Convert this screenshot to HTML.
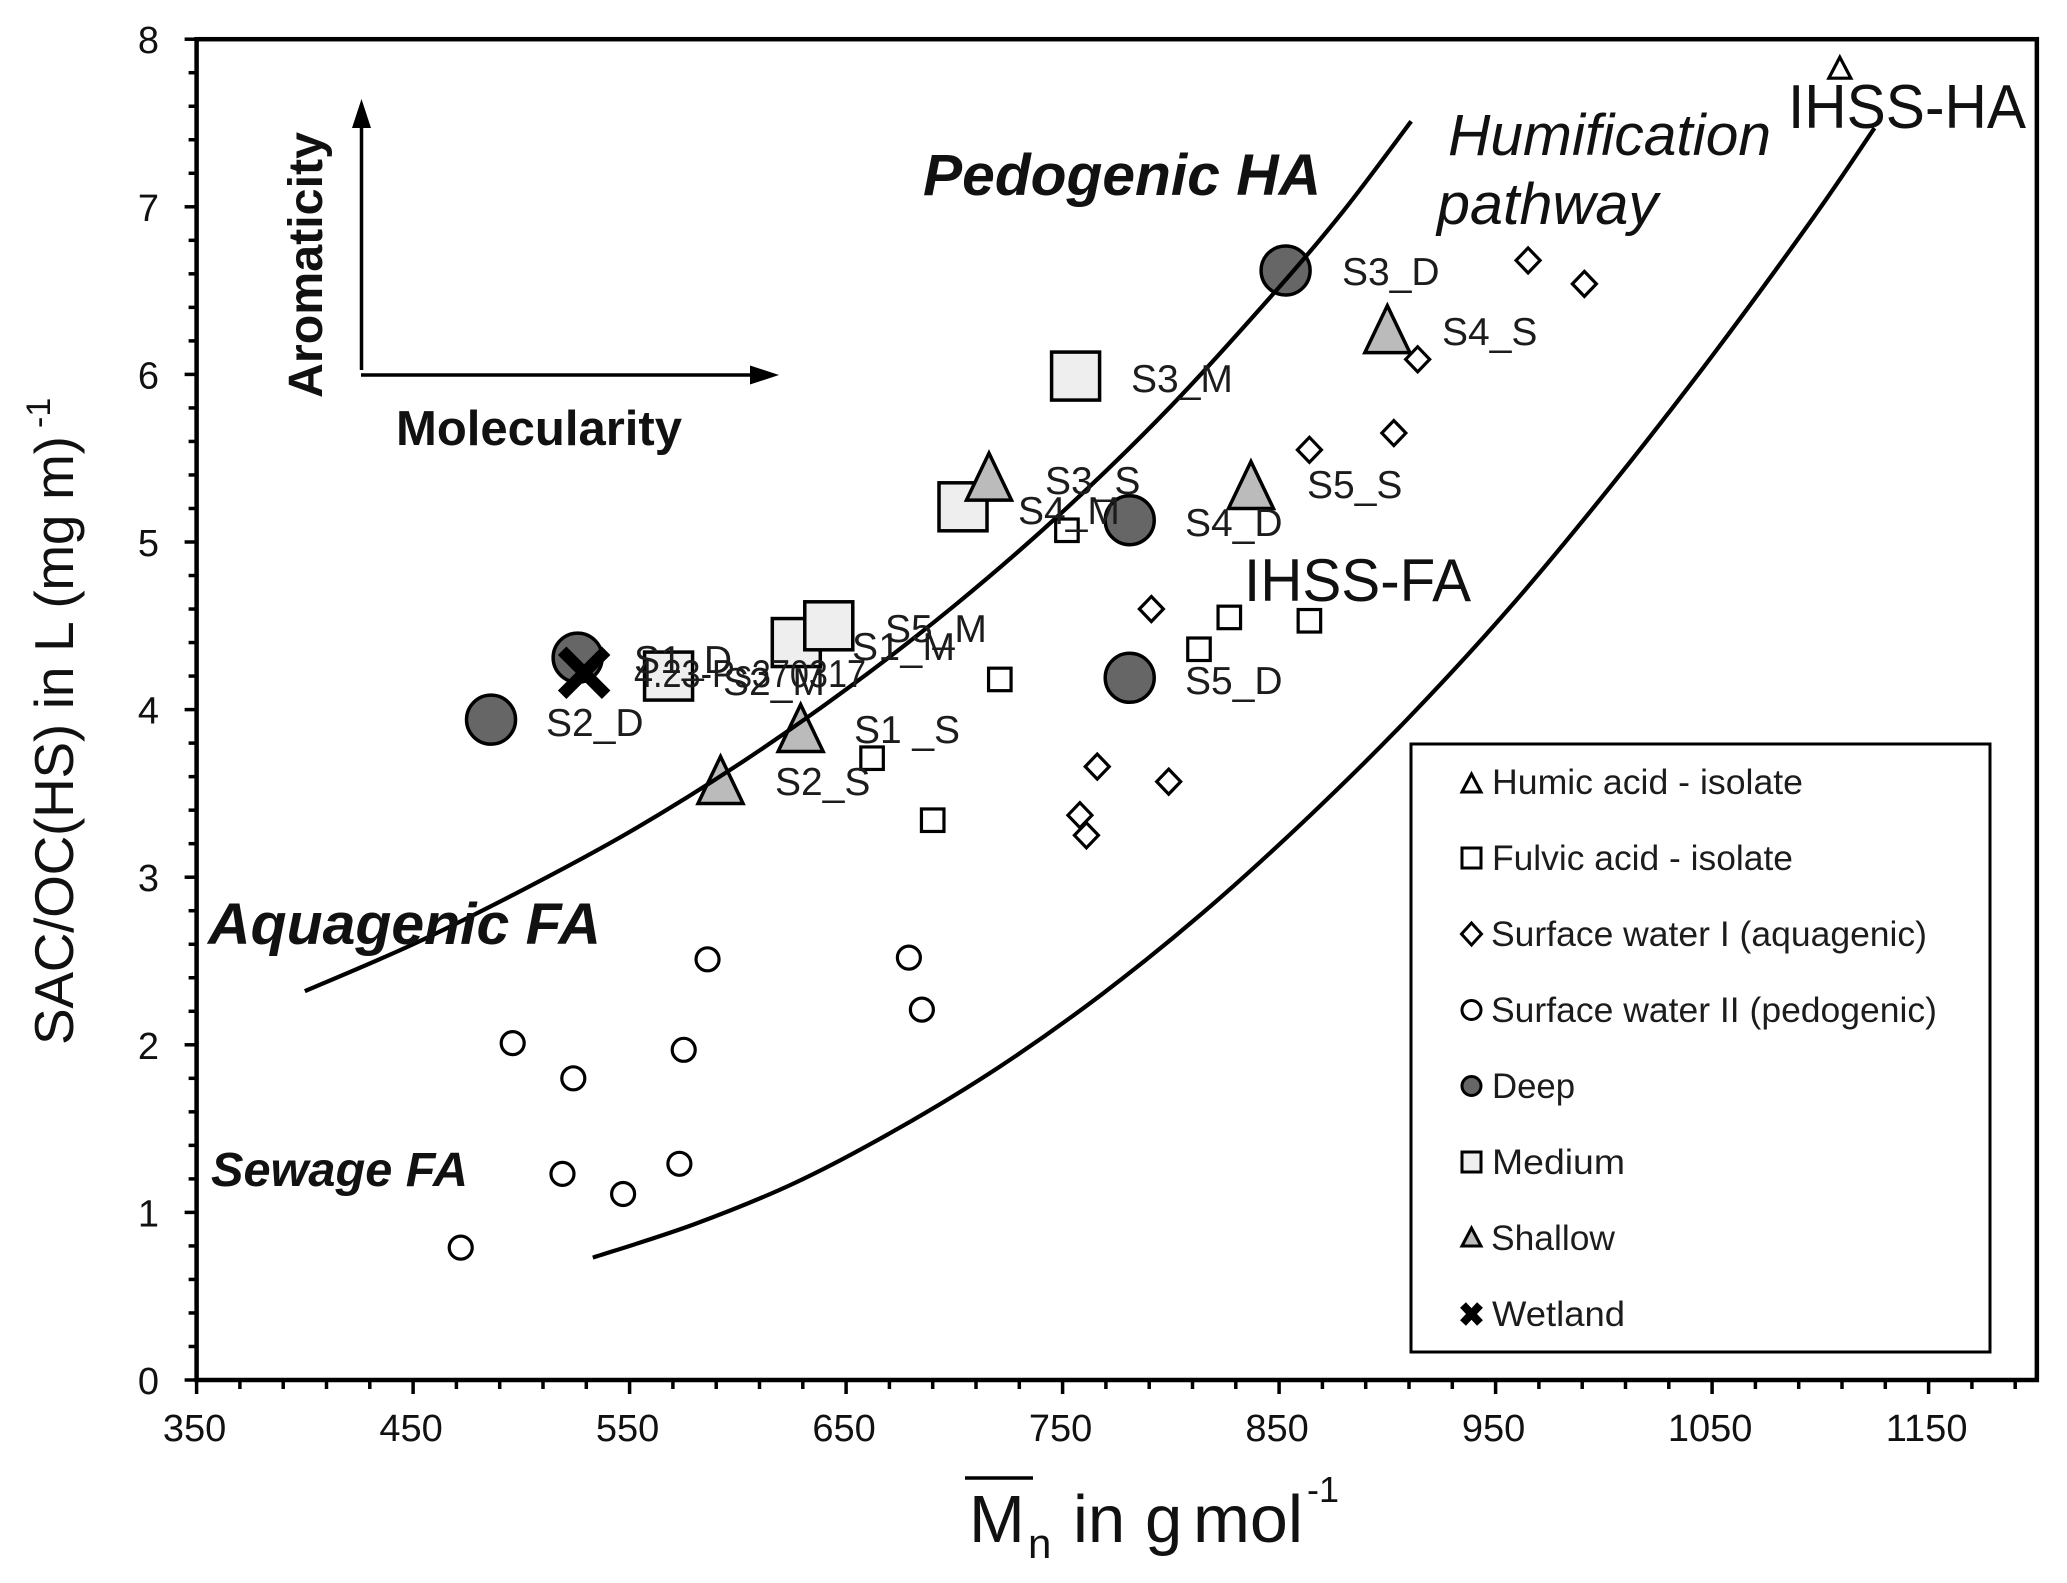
<!DOCTYPE html>
<html lang="en">
<head>
<meta charset="utf-8">
<title>SAC/OC versus molecular weight</title>
<style>
html,body{margin:0;padding:0;background:#fff}
svg{display:block}
text{font-family:"Liberation Sans",Arial,sans-serif;fill:#111}
.sample{font-size:39px;fill:#1c1c1c}
.legend-text{font-size:35px;fill:#1c1c1c}
.tick{font-size:38px;fill:#111}
</style>
</head>
<body>
<svg id="chart" width="2067" height="1583" viewBox="0 0 2067 1583" xmlns="http://www.w3.org/2000/svg">
  <rect x="0" y="0" width="2067" height="1583" fill="#fff"/>
  <g id="axes"></g>
  <g id="marks"></g>
  <g id="curves"></g>

  <g>
    <line x1="361.5" y1="370" x2="361.5" y2="125" stroke="#000" stroke-width="3.5"/>
    <polygon points="361.5,99 352,128 371,128" fill="#000"/>
    <line x1="361" y1="375" x2="752" y2="375" stroke="#000" stroke-width="3.5"/>
    <polygon points="779,375 750,365.5 750,384.5" fill="#000"/>
    <text transform="translate(322,398) rotate(-90)" font-size="48" font-weight="700" textLength="266" lengthAdjust="spacingAndGlyphs">Aromaticity</text>
    <text x="396" y="445" font-size="49" font-weight="700" textLength="286" lengthAdjust="spacingAndGlyphs">Molecularity</text>
  </g>

  <g>
    <text x="923" y="195" font-size="58" font-weight="700" font-style="italic" textLength="398" lengthAdjust="spacingAndGlyphs">Pedogenic HA</text>
    <text x="208" y="944" font-size="58" font-weight="700" font-style="italic" textLength="393" lengthAdjust="spacingAndGlyphs">Aquagenic FA</text>
    <text x="211" y="1186" font-size="48" font-weight="700" font-style="italic" textLength="257" lengthAdjust="spacingAndGlyphs">Sewage FA</text>
    <text x="1448" y="155" font-size="58" font-style="italic" textLength="323" lengthAdjust="spacingAndGlyphs">Humification</text>
    <text x="1437" y="224" font-size="58" font-style="italic" textLength="221" lengthAdjust="spacingAndGlyphs">pathway</text>
    <text x="1788" y="128" font-size="62" textLength="238" lengthAdjust="spacingAndGlyphs">IHSS-HA</text>
    <text x="1244" y="601" font-size="60" textLength="227" lengthAdjust="spacingAndGlyphs">IHSS-FA</text>
  </g>

  <g>
    <text class="sample" x="1342" y="285">S3_D</text>
    <text class="sample" x="1442" y="345">S4_S</text>
    <text class="sample" x="1131" y="392">S3_M</text>
    <text class="sample" x="1045" y="494">S3_S</text>
    <text class="sample" x="1018" y="524">S4_M</text>
    <text class="sample" x="1307" y="498">S5_S</text>
    <text class="sample" x="1185" y="536">S4_D</text>
    <text class="sample" x="1185" y="694">S5_D</text>
    <text class="sample" x="885" y="642">S5_M</text>
    <text class="sample" x="852" y="660" textLength="103" lengthAdjust="spacing">S1_M</text>
    <text class="sample" x="634" y="673" textLength="98" lengthAdjust="spacing">S1_D</text>
    <text class="sample" x="634" y="687" textLength="232" lengthAdjust="spacingAndGlyphs">4.23-Ps370317</text>
    <text class="sample" x="723" y="695">S2_M</text>
    <text class="sample" x="546" y="736">S2_D</text>
    <text class="sample" x="854" y="743" textLength="106" lengthAdjust="spacing">S1 _S</text>
    <text class="sample" x="775" y="795">S2_S</text>
  </g>

  <g>
    <rect x="1411" y="744" width="579" height="608" fill="#fff" stroke="#000" stroke-width="3"/>
    <polygon points="1471.5,774 1462,792 1481,792" fill="#fff" stroke="#000" stroke-width="3"/>
    <rect x="1462" y="848" width="19" height="20" fill="#fff" stroke="#000" stroke-width="3"/>
    <polygon points="1471.5,923 1481.5,934 1471.5,945 1461.5,934" fill="#fff" stroke="#000" stroke-width="3"/>
    <circle cx="1471.5" cy="1010" r="9.5" fill="#fff" stroke="#000" stroke-width="3"/>
    <circle cx="1471.5" cy="1086" r="9.5" fill="#666" stroke="#000" stroke-width="3"/>
    <rect x="1462" y="1152" width="19" height="20" fill="#eee" stroke="#000" stroke-width="3"/>
    <polygon points="1471.5,1228 1462,1246 1481,1246" fill="#bbb" stroke="#000" stroke-width="3"/>
    <g stroke="#000" stroke-width="8">
      <line x1="1463" y1="1305" x2="1480" y2="1323"/>
      <line x1="1480" y1="1305" x2="1463" y2="1323"/>
    </g>
    <text class="legend-text" x="1492" y="794" textLength="311" lengthAdjust="spacingAndGlyphs">Humic acid - isolate</text>
    <text class="legend-text" x="1492" y="870" textLength="301" lengthAdjust="spacingAndGlyphs">Fulvic acid - isolate</text>
    <text class="legend-text" x="1491" y="946" textLength="436" lengthAdjust="spacingAndGlyphs">Surface water I (aquagenic)</text>
    <text class="legend-text" x="1491" y="1022" textLength="446" lengthAdjust="spacingAndGlyphs">Surface water II (pedogenic)</text>
    <text class="legend-text" x="1492" y="1098" textLength="83" lengthAdjust="spacingAndGlyphs">Deep</text>
    <text class="legend-text" x="1492" y="1174" textLength="133" lengthAdjust="spacingAndGlyphs">Medium</text>
    <text class="legend-text" x="1491" y="1250" textLength="124" lengthAdjust="spacingAndGlyphs">Shallow</text>
    <text class="legend-text" x="1492" y="1326" textLength="133" lengthAdjust="spacingAndGlyphs">Wetland</text>
  </g>

  <g>
    <text transform="translate(73,1045) rotate(-90)" font-size="55" textLength="609" lengthAdjust="spacing">SAC/OC(HS) in L (mg m)</text>
    <text transform="translate(50,428) rotate(-90)" font-size="34">-1</text>
  </g>
  <g>
    <line x1="965" y1="1478" x2="1033" y2="1478" stroke="#000" stroke-width="3.5"/>
    <text x="969" y="1542" font-size="67">M</text>
    <text x="1028" y="1558" font-size="42">n</text>
    <text x="1073" y="1542" font-size="67">in</text>
    <text x="1145" y="1542" font-size="67">g</text>
    <text x="1193" y="1542" font-size="67" textLength="110" lengthAdjust="spacingAndGlyphs">mol</text>
    <text x="1307" y="1502" font-size="36">-1</text>
  </g>
</svg>

<script>
// ---- chart data ----
const xTickLabels = ['350','450','550','650','750','850','950','1050','1150'];
const yTickLabels = ['0','1','2','3','4','5','6','7','8'];

const humicX = [1109];
const humicY = [7.83];

const fulvicX = [752, 721, 662, 690, 827, 813, 864];
const fulvicY = [5.07, 4.18, 3.71, 3.34, 4.55, 4.36, 4.53];

const surfaceOneX = [965, 991, 914, 903, 864, 791, 766, 799, 758, 761];
const surfaceOneY = [6.68, 6.54, 6.09, 5.65, 5.55, 4.60, 3.66, 3.57, 3.37, 3.25];

const surfaceTwoX = [586, 679, 685, 496, 524, 575, 519, 547, 573, 472];
const surfaceTwoY = [2.51, 2.52, 2.21, 2.01, 1.80, 1.97, 1.23, 1.11, 1.29, 0.79];

const deepX = [853, 781, 781, 526, 486];
const deepY = [6.62, 5.13, 4.19, 4.31, 3.94];

const mediumX = [756, 704, 627, 642, 568];
const mediumY = [5.99, 5.21, 4.40, 4.50, 4.20];

const shallowX = [900, 716, 837, 629, 592];
const shallowY = [6.27, 5.39, 5.34, 3.89, 3.58];

const wetlandX = [529];
const wetlandY = [4.22];

const upperCurveX = [400, 450, 500, 550, 600, 650, 700, 750, 800, 850, 880, 911];
const upperCurveY = [2.32, 2.60, 2.92, 3.27, 3.67, 4.12, 4.62, 5.18, 5.81, 6.52, 6.98, 7.51];

const lowerCurveX = [533, 580, 627, 674, 721, 768, 815, 862, 909, 956, 1003, 1050, 1097, 1125];
const lowerCurveY = [0.73, 0.93, 1.18, 1.50, 1.87, 2.30, 2.79, 3.34, 3.94, 4.60, 5.33, 6.11, 6.94, 7.47];

// ---- axis functions ----
const PLOT_LEFT = 196.6, PLOT_BOTTOM = 1380, PX_PER_X = 2.165, PX_PER_Y = 167.6;
function xScale(v) { return PLOT_LEFT + (v - 350) * PX_PER_X; }
function yScale(v) { return PLOT_BOTTOM - v * PX_PER_Y; }

const NS = 'http://www.w3.org/2000/svg';
const axes = document.getElementById('axes');
const marks = document.getElementById('marks');
const curves = document.getElementById('curves');

function make(tag, parent, attrs) {
  const el = document.createElementNS(NS, tag);
  for (const k in attrs) el.setAttribute(k, attrs[k]);
  parent.appendChild(el);
  return el;
}

// ---- axes ----
const frame = make('rect', axes, {
  x: xScale(350), y: yScale(8), width: xScale(1200) - xScale(350), height: yScale(0) - yScale(8),
  fill: 'none', stroke: '#000', 'stroke-width': 4.5
});



for (let v = 350; v < 1200; v += 20) {
  const isMajor = (v - 350) % 100 === 0;
  const tick = make('line', axes, {
    x1: xScale(v), x2: xScale(v), y1: yScale(0), y2: yScale(0) + (isMajor ? 14 : 9),
    stroke: '#000', 'stroke-width': 3.5
  });
  
  
}
for (let i = 0; i <= 40; i++) {
  const v = i / 5;
  const isMajor = i % 5 === 0;
  const tick = make('line', axes, {
    x1: xScale(350), x2: xScale(350) - (isMajor ? 12 : 8), y1: yScale(v), y2: yScale(v),
    stroke: '#000', 'stroke-width': 3.5
  });
  
  
}
xTickLabels.forEach(function (label) {
  const t = make('text', axes, { x: xScale(+label) - 2, y: 1441, 'text-anchor': 'middle', class: 'tick' });
  t.textContent = label;
  
  
});
yTickLabels.forEach(function (label) {
  const t = make('text', axes, { x: 159, y: yScale(+label) + 14, 'text-anchor': 'end', class: 'tick' });
  t.textContent = label;
  
  
});

// ---- mark shapes ----
function square(cx, cy, side, fill, sw) {
  return make('rect', marks, { x: cx - side / 2, y: cy - side / 2, width: side, height: side, fill: fill, stroke: '#000', 'stroke-width': sw });
}
function circle(cx, cy, r, fill, sw) {
  return make('circle', marks, { cx: cx, cy: cy, r: r, fill: fill, stroke: '#000', 'stroke-width': sw });
}
function triangle(cx, cy, w, h, fill, sw) {
  const pts = [cx, cy - h / 2, cx + w / 2, cy + h / 2, cx - w / 2, cy + h / 2].join(' ');
  return make('polygon', marks, { points: pts, fill: fill, stroke: '#000', 'stroke-width': sw });
}
function diamond(cx, cy, w, h, fill, sw) {
  const pts = [cx, cy - h / 2, cx + w / 2, cy, cx, cy + h / 2, cx - w / 2, cy].join(' ');
  return make('polygon', marks, { points: pts, fill: fill, stroke: '#000', 'stroke-width': sw });
}

// ---- series (back to front) ----
deepX.forEach(function (x, i) {
  const m = circle(xScale(x), yScale(deepY[i]), 24.5, '#666', 3.5);
  
  
});
mediumX.forEach(function (x, i) {
  const m = square(xScale(x), yScale(mediumY[i]), 48, '#eee', 3.5);
  
  
});
shallowX.forEach(function (x, i) {
  const m = triangle(xScale(x), yScale(shallowY[i]), 45, 47, '#bbb', 3.5);
  
  
});
humicX.forEach(function (x, i) {
  const m = triangle(xScale(x), yScale(humicY[i]), 22, 21, '#fff', 3.2);
  
  
});
fulvicX.forEach(function (x, i) {
  const m = square(xScale(x), yScale(fulvicY[i]), 22.5, '#fff', 3.2);
  
  
});
surfaceOneX.forEach(function (x, i) {
  const m = diamond(xScale(x), yScale(surfaceOneY[i]), 24, 25, '#fff', 3.2);
  
  
});
surfaceTwoX.forEach(function (x, i) {
  const m = circle(xScale(x), yScale(surfaceTwoY[i]), 11.5, '#fff', 3.2);
  
  
});
wetlandX.forEach(function (x, i) {
  const cx = xScale(x), cy = yScale(wetlandY[i]);
  const g = make('g', marks, { stroke: '#000', 'stroke-width': 12 });
  
  
  make('line', g, { x1: cx - 22, y1: cy - 22, x2: cx + 22, y2: cy + 22 });
  make('line', g, { x1: cx + 22, y1: cy - 22, x2: cx - 22, y2: cy + 22 });
});

// ---- humification curves ----
function smoothPath(xs, ys) {
  const p = xs.map(function (x, i) { return [xScale(x), yScale(ys[i])]; });
  let d = 'M' + p[0][0] + ' ' + p[0][1];
  for (let i = 0; i < p.length - 1; i++) {
    const a = p[Math.max(i - 1, 0)], b = p[i], c = p[i + 1], e = p[Math.min(i + 2, p.length - 1)];
    d += 'C' + (b[0] + (c[0] - a[0]) / 6) + ' ' + (b[1] + (c[1] - a[1]) / 6) + ' ' +
         (c[0] - (e[0] - b[0]) / 6) + ' ' + (c[1] - (e[1] - b[1]) / 6) + ' ' + c[0] + ' ' + c[1];
  }
  return d;
}
const upperCurve = make('path', curves, { d: smoothPath(upperCurveX, upperCurveY), fill: 'none', stroke: '#000', 'stroke-width': 4.2 });


const lowerCurve = make('path', curves, { d: smoothPath(lowerCurveX, lowerCurveY), fill: 'none', stroke: '#000', 'stroke-width': 4.2 });


</script>
</body>
</html>
